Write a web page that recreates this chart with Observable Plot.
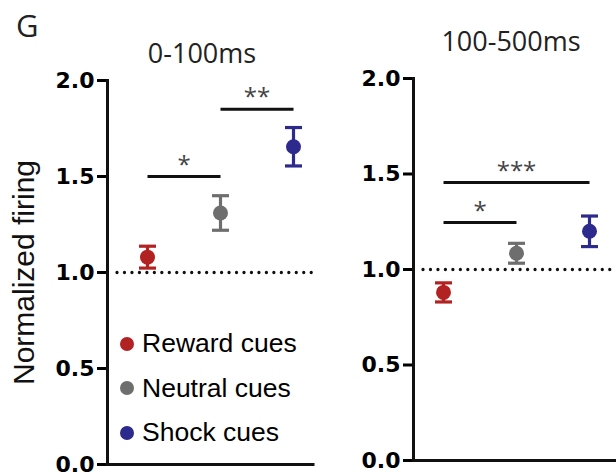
<!DOCTYPE html>
<html><head><meta charset="utf-8">
<script src="https://cdn.jsdelivr.net/npm/d3@7"></script>
<script src="https://cdn.jsdelivr.net/npm/@observablehq/plot@0.6"></script>
<style>
body{margin:0;background:#fff;}
#fig{position:relative;width:616px;height:473px;overflow:hidden;background:#fff;}
#fig svg{position:absolute;top:0;background:none !important;overflow:visible;}
.ttl{position:absolute;font-family:"Open Sans";font-size:27px;line-height:27px;color:#222;white-space:nowrap;}
#legend{position:absolute;left:120px;top:321.5px;font-family:"Liberation Sans";font-size:26.5px;color:#000;}
#legend .row{display:flex;align-items:center;height:44.5px;}
#legend .sw{width:14px;height:14px;border-radius:50%;margin-right:8px;}
[aria-label="y-axis tick label"] text{font-family:"DejaVu Sans";font-weight:bold;font-size:22px;fill:#000;}
[aria-label="y-axis label"] text{font-family:"Liberation Sans";font-weight:normal;font-size:30px;fill:#111;}
</style>
</head><body>
<div id="fig">
  <div class="ttl" style="left:16px;top:10px;font-size:31px;line-height:31px;">G</div>
  <div id="legend"></div>
</div>
<script>
// ---- data ----
const categories = ["Reward cues", "Neutral cues", "Shock cues"];
const colors = ["#b22222", "#6e6e6e", "#2c2a8c"];
const windows = ["0-100ms", "100-500ms"];
const yTicks = [0, 0.5, 1, 1.5, 2];
const yLabel = "Normalized firing";

// 0-100 ms window
const means0 = [1.08, 1.31, 1.655];
const sems0 = [0.057, 0.09, 0.10];
const sigPairs0 = [["Reward cues", "Neutral cues"], ["Neutral cues", "Shock cues"]];
const sigHeights0 = [1.5, 1.85];
const sigLabels0 = ["*", "**"];

// 100-500 ms window
const means1 = [0.88, 1.085, 1.20];
const sems1 = [0.05, 0.052, 0.08];
const sigPairs1 = [["Reward cues", "Shock cues"], ["Reward cues", "Neutral cues"]];
const sigHeights1 = [1.455, 1.246];
const sigLabels1 = ["***", "*"];

// horizontal cap symbol for error bars
const hline = {draw(ctx, size) { const r = Math.sqrt(size / Math.PI); ctx.moveTo(-r, 0); ctx.lineTo(r, 0); }};
const idx = c => categories.indexOf(c);

function panel(o) {
  const rows = categories.map((c, i) => ({cat: c, mean: o.means[i], lo: o.means[i] - o.sems[i], hi: o.means[i] + o.sems[i]}));
  const sig = o.sigPairs.map((p, i) => ({a: p[0], b: p[1], y: o.sigHeights[i], label: o.sigLabels[i]}));
  const svg = Plot.plot({
    width: o.width, height: 473,
    marginLeft: o.marginLeft, marginRight: 0, marginTop: o.marginTop, marginBottom: o.marginBottom,
    x: {domain: [0, 2], range: o.xRange, axis: null},
    y: {domain: [0, 2], axis: null},
    color: {domain: categories, range: colors},
    marks: [
      Plot.ruleY([1], {stroke: "#111", strokeWidth: 3.3, strokeDasharray: "0,7.47", strokeLinecap: "round", insetLeft: 10}),
      Plot.axisY({ticks: yTicks, tickFormat: d => d.toFixed(1), tickSize: 10, tickPadding: 3, strokeWidth: 3,
        label: o.showLabel ? yLabel : null, labelAnchor: "center", labelOffset: 95, labelArrow: "none"}),
      Plot.frame({anchor: "left", strokeWidth: 3, stroke: "#111", strokeLinecap: "square"}),
      Plot.ruleY([0], {stroke: "#111", strokeWidth: 3, strokeLinecap: "square"}),
      Plot.ruleX(rows, {x: d => idx(d.cat), y1: "lo", y2: "hi", stroke: "cat", strokeWidth: 3.2}),
      Plot.dot(rows, {x: d => idx(d.cat), y: "lo", symbol: hline, r: 8.5, stroke: "cat", strokeWidth: 3.2}),
      Plot.dot(rows, {x: d => idx(d.cat), y: "hi", symbol: hline, r: 8.5, stroke: "cat", strokeWidth: 3.2}),
      Plot.dot(rows, {x: d => idx(d.cat), y: "mean", r: 7.5, fill: "cat"}),
      Plot.link(sig, {x1: d => idx(d.a), x2: d => idx(d.b), y1: "y", y2: "y", stroke: "#111", strokeWidth: 3}),
      Plot.text(sig, {x: d => (idx(d.a) + idx(d.b)) / 2, y: "y", text: "label", dy: -4, fontSize: 24,
        fontFamily: "Open Sans", fill: "#444", lineAnchor: "bottom"})
    ]
  });
  // make sure the axis label carries no direction arrow
  svg.querySelectorAll('[aria-label="y-axis label"] text').forEach(t => { t.textContent = yLabel; });
  svg.style.left = o.left + "px";
  return svg;
}

const fig = document.getElementById("fig");
fig.appendChild(panel({means: means0, sems: sems0, sigPairs: sigPairs0, sigHeights: sigHeights0, sigLabels: sigLabels0,
  width: 313, left: 0, marginLeft: 107, marginTop: 80, marginBottom: 9, xRange: [147, 293], showLabel: true}));
fig.appendChild(panel({means: means1, sems: sems1, sigPairs: sigPairs1, sigHeights: sigHeights1, sigLabels: sigLabels1,
  width: 316, left: 300, marginLeft: 113, marginTop: 78, marginBottom: 13, xRange: [143, 289], showLabel: false}));

// titles
const t0 = document.createElement("div"); t0.className = "ttl"; t0.textContent = windows[0];
t0.style.left = "202px"; t0.style.top = "39px"; t0.style.transform = "translateX(-50%)"; fig.appendChild(t0);
const t1 = document.createElement("div"); t1.className = "ttl"; t1.textContent = windows[1];
t1.style.left = "511px"; t1.style.top = "27px"; t1.style.transform = "translateX(-50%)"; fig.appendChild(t1);

// legend
const lg = document.getElementById("legend");
categories.forEach((c, i) => {
  const row = document.createElement("div"); row.className = "row";
  const sw = document.createElement("div"); sw.className = "sw"; sw.style.background = colors[i];
  const tx = document.createElement("span"); tx.textContent = c;
  row.appendChild(sw); row.appendChild(tx); lg.appendChild(row);
});
fig.appendChild(lg);
</script>
</body></html>
